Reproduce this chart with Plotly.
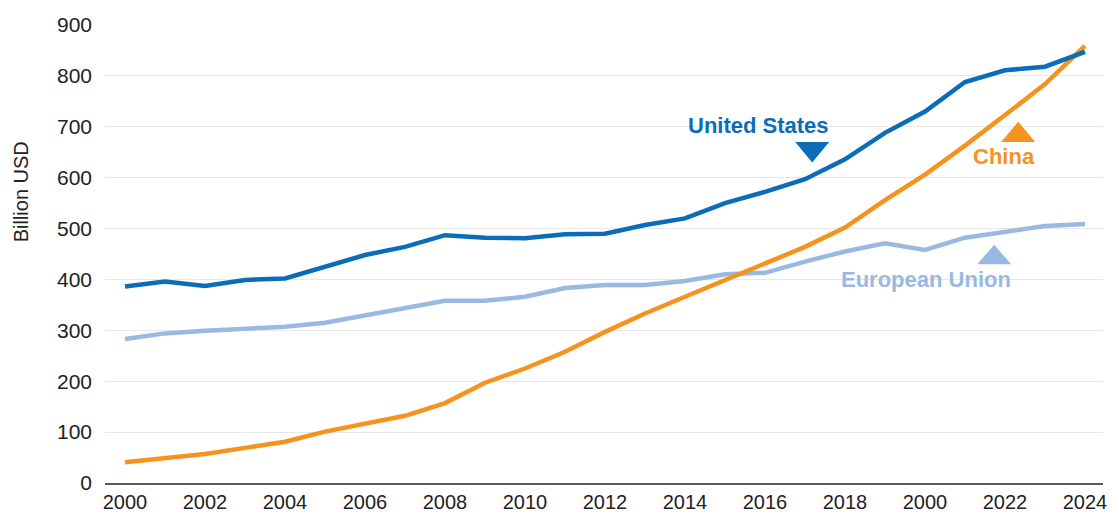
import plotly.graph_objects as go

years = list(range(2000, 2025))
us = [386, 396, 387, 399, 402, 425, 448, 464, 487, 482, 481, 489, 490, 507, 520,
      550, 572, 597, 636, 688, 730, 788, 811, 818, 847]
china = [41, 49, 57, 69, 81, 101, 116, 132, 157, 197, 225, 258, 297, 333, 366,
         399, 432, 464, 502, 556, 606, 663, 723, 784, 859]
eu = [283, 294, 299, 304, 307, 315, 330, 343, 358, 358, 366, 383, 389, 389, 397,
      410, 413, 435, 455, 471, 458, 482, 494, 505, 509]
tick_vals = list(range(2000, 2025, 2))
tick_text = ["2000", "2002", "2004", "2006", "2008", "2010", "2012", "2014",
             "2016", "2018", "2000", "2022", "2024"]

C_US = "#0b6cb8"
C_CN = "#f6921e"
C_EU = "#9ab9e2"
FONT = "Liberation Sans"

fig = go.Figure()
for name, vals, col in [("European Union", eu, C_EU), ("China", china, C_CN), ("United States", us, C_US)]:
    fig.add_trace(go.Scatter(x=years, y=vals, mode="lines", name=name,
                             line=dict(color=col, width=4.5), showlegend=False))

def tri(cx, cy, w, h, down, color):
    # w in years, h in data units
    if down:
        path = f"M{cx - w/2},{cy + h/2} L{cx + w/2},{cy + h/2} L{cx},{cy - h/2} Z"
    else:
        path = f"M{cx - w/2},{cy - h/2} L{cx + w/2},{cy - h/2} L{cx},{cy + h/2} Z"
    fig.add_shape(type="path", path=path, xref="x", yref="y", fillcolor=color,
                  line=dict(width=0), layer="above")

tri(2017.18, 650, 0.85, 40, True, C_US)
tri(2022.33, 690, 0.85, 40, False, C_CN)
tri(2021.73, 449, 0.85, 38, False, C_EU)

def label(text, x, y, color):
    fig.add_annotation(text=f"<b>{text}</b>", x=x, y=y, xref="x", yref="y",
                       showarrow=False, font=dict(family=FONT, size=22, color=color))

label("United States", 2015.83, 702, C_US)
label("China", 2021.98, 641, C_CN)
label("European Union", 2020.03, 399, C_EU)

# y-axis title placed like the reference (above the plot's vertical middle)
fig.add_annotation(text="Billion USD", xref="paper", yref="paper",
                   x=-0.084, y=0.635, xanchor="center", yanchor="middle",
                   textangle=-90, showarrow=False,
                   font=dict(family=FONT, size=20, color="#222222"))

fig.update_layout(
    width=1112, height=514,
    margin=dict(l=105, r=9, t=25, b=31),
    paper_bgcolor="white", plot_bgcolor="white",
    font=dict(family=FONT, size=21, color="#222222"),
    xaxis=dict(range=[1999.5, 2024.45], tickvals=tick_vals, ticktext=tick_text,
               showgrid=False, zeroline=False, showline=True, linecolor="#5a5a5a",
               linewidth=1.5, ticks="", automargin=False, ticklabelstandoff=0,
               tickfont=dict(size=20, color="#222222")),
    yaxis=dict(range=[0, 900], tickvals=list(range(0, 1000, 100)),
               showgrid=True, gridcolor="#e8e8e8", gridwidth=1, zeroline=False,
               ticks="", ticklabelstandoff=12, automargin=False,
               tickfont=dict(size=21, color="#222222")),
)

fig.write_html("out.html")
